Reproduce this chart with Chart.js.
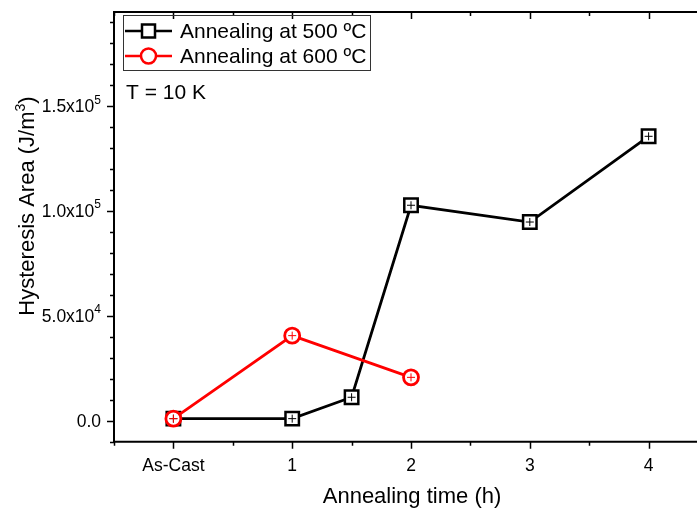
<!DOCTYPE html>
<html>
<head>
<meta charset="utf-8">
<script src="https://cdn.jsdelivr.net/npm/chart.js@4/dist/chart.umd.min.js"></script>
<style>
  html, body { margin: 0; padding: 0; background: #fff; overflow: hidden; }
  #wrap { width: 720px; height: 513px; }
</style>
</head>
<body>
<div id="wrap"><canvas id="chart" width="720" height="513"></canvas></div>
<script>
// annealing time in hours (0 = as-cast)
const times500 = [0, 1, 1.5, 2, 3, 4];
const area500 = [1000, 1000, 11200, 102800, 94800, 135700];
const times600 = [0, 1, 2];
const area600 = [1000, 40600, 20700];

const xTickValues = [0, 1, 2, 3, 4];
const xTickLabels = ['As-Cast', '1', '2', '3', '4'];
const yTickValues = [0, 50000, 100000, 150000];
const yTickMantissa = ['0.0', '5.0', '1.0', '1.5'];
const yTickExponent = ['', '4', '5', '5'];

const seriesNames = ['Annealing at 500 ºC', 'Annealing at 600 ºC'];
const FONT = '"Liberation Sans", Arial, sans-serif';

function toPoints(xs, ys) {
  return xs.map((x, i) => ({ x: x, y: ys[i] }));
}

const frame = {
  id: 'frame',
  afterDatasetsDraw(chart) {
    const ctx = chart.ctx;
    // small error-bar crosses inside the markers
    chart.data.datasets.forEach((ds, di) => {
      const meta = chart.getDatasetMeta(di);
      ctx.save();
      ctx.strokeStyle = ds.borderColor;
      ctx.lineWidth = 1;
      meta.data.forEach(pt => {
        ctx.beginPath();
        ctx.moveTo(pt.x - 4, pt.y); ctx.lineTo(pt.x + 4, pt.y);
        ctx.moveTo(pt.x, pt.y - 4); ctx.lineTo(pt.x, pt.y + 4);
        ctx.stroke();
      });
      ctx.restore();
    });
  },
  afterDraw(chart) {
    const ctx = chart.ctx;
    const a = chart.chartArea;
    const xs = chart.scales.x;
    const ys = chart.scales.y;
    ctx.save();
    ctx.strokeStyle = '#000';
    ctx.fillStyle = '#000';

    // axis lines: left, bottom, top
    ctx.lineWidth = 2;
    ctx.beginPath();
    ctx.moveTo(a.left, a.top); ctx.lineTo(a.left, a.bottom);
    ctx.moveTo(a.left - 1, a.bottom); ctx.lineTo(chart.width, a.bottom);
    ctx.moveTo(a.left - 1, a.top); ctx.lineTo(chart.width, a.top);
    ctx.stroke();

    // x ticks: outward at the bottom, inward at the top
    ctx.lineWidth = 1.5;
    ctx.beginPath();
    for (let v = -0.5; v <= 4.5; v += 0.5) {
      const px = Math.round(xs.getPixelForValue(v)) + 0.5;
      const len = Number.isInteger(v) ? 7 : 4;
      ctx.moveTo(px, a.bottom); ctx.lineTo(px, a.bottom + len);
      ctx.moveTo(px, a.top); ctx.lineTo(px, a.top + len);
    }
    // y ticks: outward on the left
    for (let v = -10000; v <= 190000; v += 10000) {
      const py = Math.round(ys.getPixelForValue(v)) + 0.5;
      const len = v % 50000 === 0 ? 7 : 4;
      ctx.moveTo(a.left, py); ctx.lineTo(a.left - len, py);
    }
    ctx.stroke();

    // x tick labels
    ctx.font = '17.5px ' + FONT;
    ctx.textAlign = 'center';
    ctx.textBaseline = 'alphabetic';
    xTickValues.forEach((v, i) => {
      ctx.fillText(xTickLabels[i], xs.getPixelForValue(v), a.bottom + 29);
    });

    // y tick labels with power-of-ten superscripts
    ctx.textBaseline = 'middle';
    yTickValues.forEach((v, i) => {
      const py = ys.getPixelForValue(v) + 1;
      const right = a.left - 13;
      ctx.textAlign = 'right';
      if (yTickExponent[i]) {
        ctx.font = '12px ' + FONT;
        const ew = ctx.measureText(yTickExponent[i]).width;
        ctx.fillText(yTickExponent[i], right, py - 7);
        ctx.font = '17.5px ' + FONT;
        ctx.fillText(yTickMantissa[i] + 'x10', right - ew, py);
      } else {
        ctx.font = '17.5px ' + FONT;
        ctx.fillText(yTickMantissa[i], right, py);
      }
    });

    // axis titles
    ctx.font = '22px ' + FONT;
    ctx.textAlign = 'center';
    ctx.textBaseline = 'alphabetic';
    ctx.fillText('Annealing time (h)', 412, 503);

    ctx.save();
    ctx.translate(34, 206);
    ctx.rotate(-Math.PI / 2);
    ctx.textAlign = 'left';
    const yMain = 'Hysteresis Area (J/m';
    ctx.font = '22px ' + FONT;
    const wMain = ctx.measureText(yMain).width;
    ctx.font = '14px ' + FONT;
    const wSup = ctx.measureText('3').width;
    ctx.font = '22px ' + FONT;
    const wEnd = ctx.measureText(')').width;
    let tx = -(wMain + wSup + wEnd) / 2;
    ctx.fillText(yMain, tx, 0);
    tx += wMain;
    ctx.font = '14px ' + FONT;
    ctx.fillText('3', tx, -9);
    tx += wSup;
    ctx.font = '22px ' + FONT;
    ctx.fillText(')', tx, 0);
    ctx.restore();

    // legend box
    ctx.lineWidth = 1;
    ctx.strokeStyle = '#333';
    ctx.strokeRect(123.5, 15.5, 247, 55);
    const rowsY = [31, 56];
    chart.data.datasets.forEach((ds, di) => {
      const y = rowsY[di];
      ctx.strokeStyle = ds.borderColor;
      ctx.lineWidth = 2.5;
      ctx.beginPath();
      ctx.moveTo(125, y); ctx.lineTo(172, y);
      ctx.stroke();
      ctx.fillStyle = '#fff';
      ctx.beginPath();
      if (ds.pointStyle === 'rect') {
        ctx.rect(142, y - 6.5, 13, 13);
      } else {
        ctx.arc(148.5, y, 7.5, 0, Math.PI * 2);
      }
      ctx.fill();
      ctx.lineWidth = 2.5;
      ctx.stroke();
      ctx.fillStyle = '#000';
      ctx.font = '21px ' + FONT;
      ctx.textAlign = 'left';
      ctx.textBaseline = 'middle';
      ctx.fillText(seriesNames[di], 180, y + 1);
    });

    // measurement temperature note
    ctx.font = '21px ' + FONT;
    ctx.textAlign = 'left';
    ctx.textBaseline = 'alphabetic';
    ctx.fillText('T = 10 K', 126, 99);
    ctx.restore();
  }
};

new Chart(document.getElementById('chart').getContext('2d'), {
  type: 'scatter',
  data: {
    datasets: [{
      label: seriesNames[0],
      data: toPoints(times500, area500),
      showLine: true,
      borderColor: '#000000',
      backgroundColor: '#ffffff',
      borderWidth: 2.8,
      pointStyle: 'rect',
      pointRadius: 9.5,
      pointBorderWidth: 2.5,
      pointBackgroundColor: '#ffffff',
      order: 1
    }, {
      label: seriesNames[1],
      data: toPoints(times600, area600),
      showLine: true,
      borderColor: '#ff0000',
      backgroundColor: '#ffffff',
      borderWidth: 2.8,
      pointStyle: 'circle',
      pointRadius: 7.5,
      pointBorderWidth: 2.8,
      pointBackgroundColor: '#ffffff',
      order: 0
    }]
  },
  options: {
    responsive: false,
    animation: false,
    layout: { padding: { left: 0, top: 5, right: 10.5, bottom: 0 } },
    plugins: { legend: { display: false }, tooltip: { enabled: false } },
    scales: {
      x: {
        type: 'linear',
        min: -0.5,
        max: 4.5,
        grid: { display: false },
        border: { display: false },
        ticks: { display: false },
        afterFit(scale) { scale.height = 71.3; }
      },
      y: {
        type: 'linear',
        min: -10000,
        max: 195000,
        grid: { display: false },
        border: { display: false },
        ticks: { display: false },
        afterFit(scale) { scale.width = 114; }
      }
    }
  },
  plugins: [frame]
});
</script>
</body>
</html>
